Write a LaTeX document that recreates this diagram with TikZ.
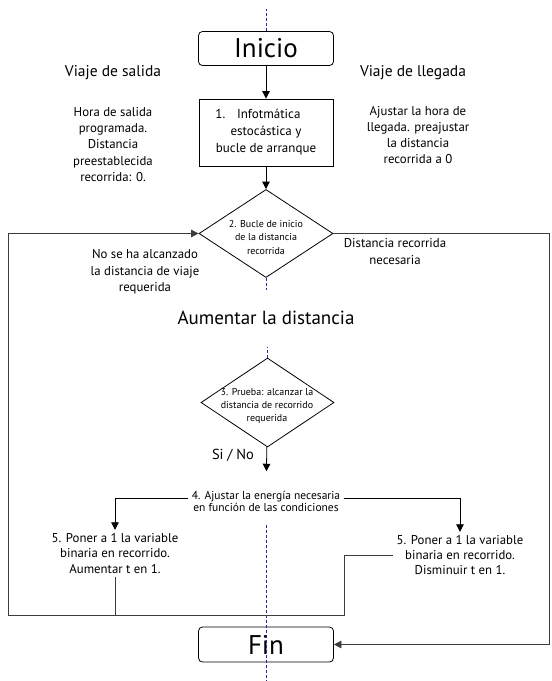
\documentclass[tikz,border=0pt]{standalone}
\usepackage{fontspec}
\setmainfont{PT Sans}
\usepackage{tikz}
\usetikzlibrary{
  arrows.meta,
  positioning,
  shapes.geometric,
}
\definecolor{flowdark}{HTML}{000000}
\definecolor{flowgray}{HTML}{3c3c3c}
\definecolor{axisblue}{HTML}{1c2a9c}

\begin{document}
\begin{tikzpicture}[x=1pt, y=-1pt,
  term/.style={
    draw=flowdark, rounded corners=4pt, line width=0.8pt,
    minimum width=135pt, minimum height=34pt, inner sep=0pt,
    font=\fontsize{27}{30}\selectfont,
  },
  box/.style={
    draw=flowdark, line width=0.8pt, minimum width=134pt, minimum height=67pt,
    align=center, font=\fontsize{13}{17}\selectfont,
  },
  decision/.style={
    draw=flowdark, diamond, line width=0.8pt, inner sep=0pt,
    minimum width=134pt, minimum height=88pt,
  },
  small/.style={align=center, font=\fontsize{10}{13.5}\selectfont},
  note/.style={align=center, font=\fontsize{12.8}{16.3}\selectfont},
  head/.style={font=\fontsize{15.5}{18}\selectfont},
  arrow/.style={
    -{Triangle[length=7.5pt,width=7.5pt]}, line width=0.8pt, color=flowdark,
  },
  loopline/.style={line width=0.8pt, color=flowgray},
  axis/.style={draw=axisblue, dash pattern=on 3pt off 2pt, line width=0.7pt},
]
  \useasboundingbox (0,0) rectangle (552,681);

  % Start and first step
  \node[term] (ini) at (266,48.5) {Inicio};
  \node[box] (box1) at (266,132.5)
    {1.\hspace{0.9em}Infotmática\hspace*{16pt}\\estocástica y\\bucle de arranque};
  \node[head] (salida) at (113,73) {Viaje de salida};
  \node[head] (llegada) at (413,73) {Viaje de llegada};
  \node[note] (salnote) at (113,144.5)
    {Hora de salida\\programada.\\Distancia\\preestablecida\\recorrida: 0.};
  \node[note] (llenote) at (418,135)
    {Ajustar la hora de\\llegada. preajustar\\la distancia\\recorrida a 0};

  % Decision 2
  \node[decision] (d2) at (266,233.5) {};
  \node[small] (d2txt) at (266,237)
    {2. Bucle de inicio\\de la distancia\\recorrida};
  \node[note] (noalc) at (145,272)
    {No se ha alcanzado\\la distancia de viaje\\requerida};
  \node[note] (distnec) at (395,251.5) {Distancia recorrida\\necesaria};

  \node[font=\fontsize{19}{22}\selectfont] (aum) at (266,318)
    {Aumentar la distancia};

  % Decision 3
  \node[decision, minimum width=133pt, minimum height=89pt] (d3)
    at (267.5,402.5) {};
  \node[small, font=\fontsize{10}{13}\selectfont] (d3txt) at (267,406)
    {3. Prueba: alcanzar la\\distancia de recorrido\\requerida};
  \node[font=\fontsize{14.5}{17}\selectfont] (sino) at (233,455) {Si / No};

  % Energy and step 5
  \node[small, font=\fontsize{11.5}{12}\selectfont] (t4) at (266,501)
    {4. Ajustar la energía necesaria\\en función de las condiciones};
  \node[note, font=\fontsize{12.8}{15.5}\selectfont] (t5l) at (115,553.5)
    {5. Poner a 1 la variable\\binaria en recorrido.\\Aumentar t en 1.};
  \node[note, font=\fontsize{12.8}{15}\selectfont] (t5r) at (460,555)
    {5. Poner a 1 la variable\\binaria en recorrido.\\Disminuir t en 1.};

  \node[term, minimum height=35pt] (fin) at (266,644.5) {Fin};

  % Centre axis
  \draw[axis] (ini.north) -- ++(0,-22);
  \draw[axis] (d2.south) -- ++(0,12);
  \draw[axis] (d3.north) -- ++(0,-11);
  \draw[axis] (266,525) -- (266,681);

  % Connections
  \draw[arrow] (ini) -- (box1);
  \draw[arrow] (box1) -- (d2);
  \draw[arrow, shorten >=16pt] (d3) -- (t4);
  \draw[arrow] ([yshift=3pt]t4.west) -| (t5l.north);
  \draw[arrow] ([yshift=3pt]t4.east) -| (t5r.north);

  % Loops
  \coordinate (lbot) at (8,615);
  \coordinate (rbend) at (344,615);
  \coordinate (rtop) at (549,233.5);
  \draw[arrow, loopline] (t5r.west) -| (rbend) -- (lbot) |- (d2.west);
  \draw[loopline] (t5l.south) -- (t5l.south |- lbot);
  \draw[arrow, loopline] (d2.east) -- (rtop) |- (fin.east);
\end{tikzpicture}
\end{document}
